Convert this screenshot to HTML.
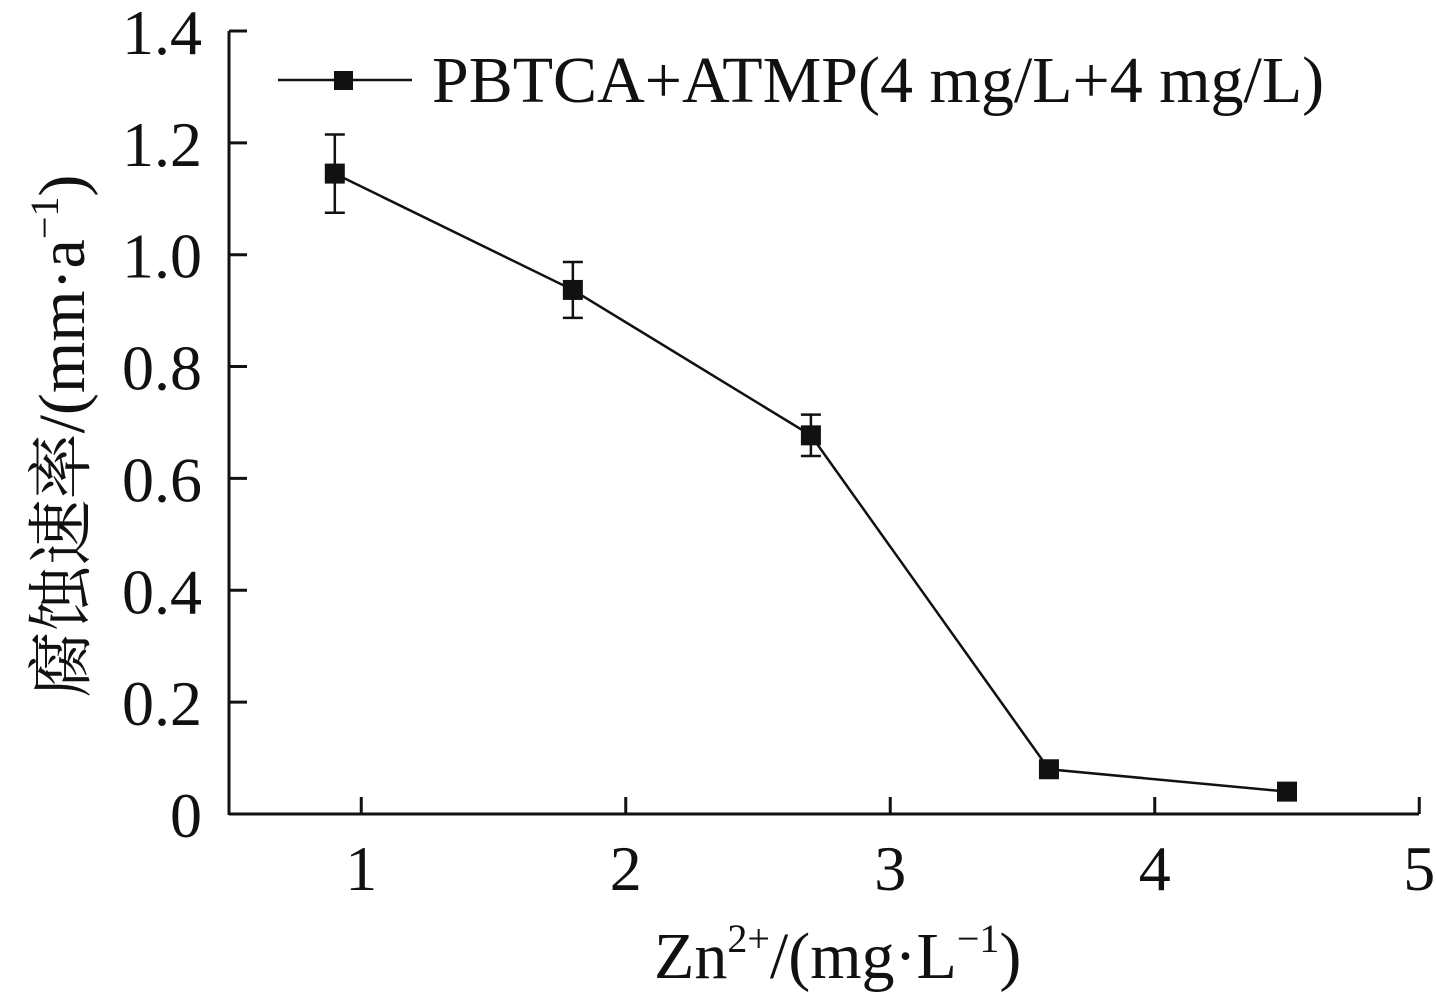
<!DOCTYPE html>
<html><head><meta charset="utf-8"><style>
html,body{margin:0;padding:0;background:#fff;width:1436px;height:995px;overflow:hidden}
svg text{font-family:"Liberation Serif","Noto Serif CJK SC",serif;fill:#111}
</style></head><body>
<svg id="chart" width="1436" height="995" xmlns="http://www.w3.org/2000/svg">
<g id="axes"></g>
<g id="series"></g>
<g>
<line x1="278" y1="80" x2="412" y2="80" stroke="#111" stroke-width="2.5"/>
<rect x="334" y="71" width="19" height="19" fill="#111"/>
<text x="432" y="102" font-size="66">PBTCA+ATMP(4 mg/L+4 mg/L)</text>
</g>
<text x="654" y="978" font-size="66">Zn<tspan font-size="40" dy="-26">2+</tspan><tspan dy="26">/(mg·L</tspan><tspan font-size="40" dy="-26">−1</tspan><tspan dy="26">)</tspan></text>
<text transform="translate(84,436) rotate(-90)" text-anchor="middle" font-size="66">腐蚀速率/(mm·a<tspan font-size="40" dy="-26">−1</tspan><tspan dy="26">)</tspan></text>
</svg>
<script>
const xTicks=[1,2,3,4,5];
const yTicks=[0,0.2,0.4,0.6,0.8,1.0,1.2,1.4];
const yTickLabels=["0","0.2","0.4","0.6","0.8","1.0","1.2","1.4"];
const xValues=[0.9,1.8,2.7,3.6,4.5];
const yValues=[1.145,0.937,0.677,0.08,0.04];
const yErrors=[0.07,0.05,0.037,0,0];
const NS="http://www.w3.org/2000/svg";
const X0=229,Y0=814;
function sx(v){return X0+(v-0.5)*264.5;}
function sy(v){return Y0-v*559.3;}
function mk(tag,attrs,parent){const e=document.createElementNS(NS,tag);for(const k in attrs)e.setAttribute(k,attrs[k]);parent.appendChild(e);return e;}
const ax=document.getElementById('axes'),sr=document.getElementById('series');
let e=mk('line',{x1:X0,y1:Y0,x2:1419,y2:Y0,stroke:'#111','stroke-width':3},ax);


e=mk('line',{x1:X0,y1:Y0+1,x2:X0,y2:31,stroke:'#111','stroke-width':3},ax);


xTicks.forEach(t=>{
 let l=mk('line',{x1:sx(t),y1:Y0,x2:sx(t),y2:Y0-17,stroke:'#111','stroke-width':3},ax);
 
 
 let tx=mk('text',{x:sx(t),y:890,'text-anchor':'middle','font-size':64},ax);tx.textContent=t;
 
 
});
yTicks.forEach((t,i)=>{
 let l=mk('line',{x1:X0,y1:sy(t),x2:X0+18,y2:sy(t),stroke:'#111','stroke-width':3},ax);
 
 
 let tx=mk('text',{x:202,y:sy(t)+23,'text-anchor':'end','font-size':64},ax);tx.textContent=yTickLabels[i];
 
 
});
let pts=xValues.map((x,i)=>sx(x)+','+sy(yValues[i])).join(' ');
let pl=mk('polyline',{points:pts,fill:'none',stroke:'#111','stroke-width':2.5},sr);


xValues.forEach((x,i)=>{
 const cx=sx(x),y=yValues[i],er=yErrors[i];
 if(er>0){
  const g=mk('g',{stroke:'#111','stroke-width':2.5},sr);
  
  
  mk('line',{x1:cx,y1:sy(y+er),x2:cx,y2:sy(y-er)},g);
  mk('line',{x1:cx-10,y1:sy(y+er),x2:cx+10,y2:sy(y+er)},g);
  mk('line',{x1:cx-10,y1:sy(y-er),x2:cx+10,y2:sy(y-er)},g);
 }
 const r=mk('rect',{x:cx-10,y:sy(y)-10,width:20,height:20,fill:'#111'},sr);
 
 
});
</script>
</body></html>
